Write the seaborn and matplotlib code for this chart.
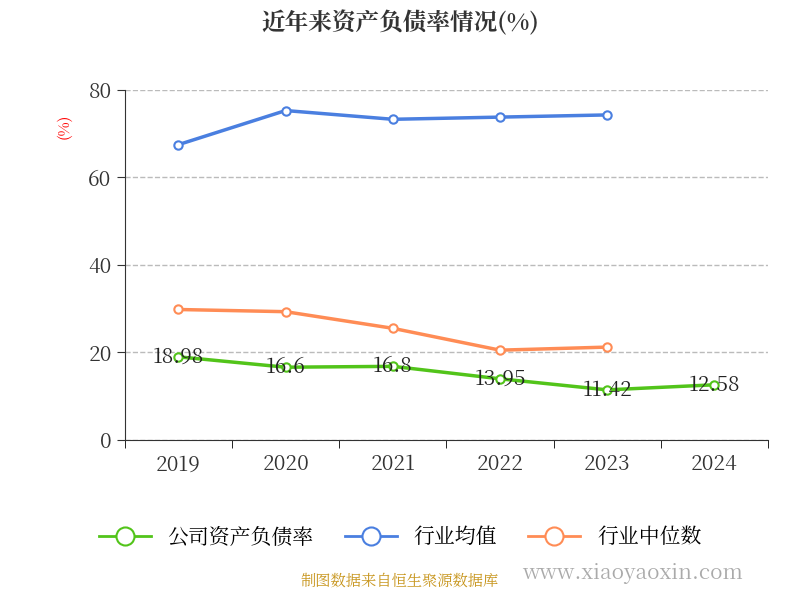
import matplotlib
matplotlib.use("Agg")
import matplotlib.pyplot as plt
from matplotlib import font_manager as fm
import seaborn as sns
import pandas as pd
from matplotlib.lines import Line2D

cjk = [f.name for f in fm.fontManager.ttflist if "CJK" in f.name]
fam = "Noto Sans CJK SC" if "Noto Sans CJK SC" in cjk else (cjk[0] if cjk else "DejaVu Sans")
plt.rcParams["font.family"] = "sans-serif"
plt.rcParams["font.sans-serif"] = [fam, "DejaVu Sans"]

years = ["2019", "2020", "2021", "2022", "2023", "2024"]
company = [18.98, 16.6, 16.8, 13.95, 11.42, 12.58]
ind_avg = [67.5, 75.3, 73.3, 73.8, 74.3]
ind_med = [29.8, 29.3, 25.5, 20.5, 21.2]
labels = ["18.98", "16.6", "16.8", "13.95", "11.42", "12.58"]

fig = plt.figure(figsize=(8, 6), dpi=100)
ax = fig.add_axes([0.156, 0.267, 0.804, 0.583])

x = list(range(len(years)))
series = [(ind_avg, "#4a7fe0", "行业均值"), (ind_med, "#ff8c55", "行业中位数"), (company, "#52c41a", "公司资产负债率")]
for vals, c, name in series:
    df = pd.DataFrame({"x": x[:len(vals)], "y": vals})
    sns.lineplot(data=df, x="x", y="y", ax=ax, color=c, lw=2.5, marker="o",
                 markersize=6, markerfacecolor="white", markeredgecolor=c, markeredgewidth=1.5)

for xi, v, t in zip(x, company, labels):
    ax.text(xi, v, t, ha="center", va="center", fontsize=15, color="#222")

ax.set_xlim(-0.5, 5.5)
ax.set_ylim(0, 80)
ax.set_yticks([0, 20, 40, 60, 80])
ax.set_xticks(x)
ax.set_xticklabels(years)
ax.tick_params(axis="both", labelsize=15, colors="#333", length=6)
ax.set_xticks([i - 0.5 for i in range(7)], minor=True)
ax.tick_params(axis="x", which="major", length=0, pad=10)
ax.tick_params(axis="x", which="minor", length=6)
ax.grid(axis="y", ls="--", color="#bbb", lw=1)
ax.set_xlabel(""); ax.set_ylabel("")
for s in ["top", "right"]:
    ax.spines[s].set_visible(False)
ax.spines["left"].set_color("#333")
ax.spines["bottom"].set_color("#333")
fig.text(0.08, 0.79, "(%)", color="red", rotation=90, fontsize=11, ha="center", va="center")

fig.text(0.5, 0.96, "近年来资产负债率情况(%)", ha="center", va="center", fontsize=17, fontweight="bold", color="#333")

handles = [Line2D([0], [0], color=c, lw=2, marker="o", markersize=13, markerfacecolor="white",
                  markeredgecolor=c, markeredgewidth=1.5) for _, c, _ in [series[2], series[0], series[1]]]
names = ["公司资产负债率", "行业均值", "行业中位数"]
fig.legend(handles, names, loc="center", bbox_to_anchor=(0.5, 0.105), ncol=3, frameon=False,
           fontsize=15, handlelength=2.5, columnspacing=1.5)
fig.text(0.5, 0.018, "制图数据来自恒生聚源数据库", ha="center", va="bottom", fontsize=11, color="#c8961e")
fig.text(0.79, 0.045, "www.xiaoyaoxin.com", ha="center", va="center", fontsize=15, color="#aaa")
fig.savefig("out.png", dpi=100)
